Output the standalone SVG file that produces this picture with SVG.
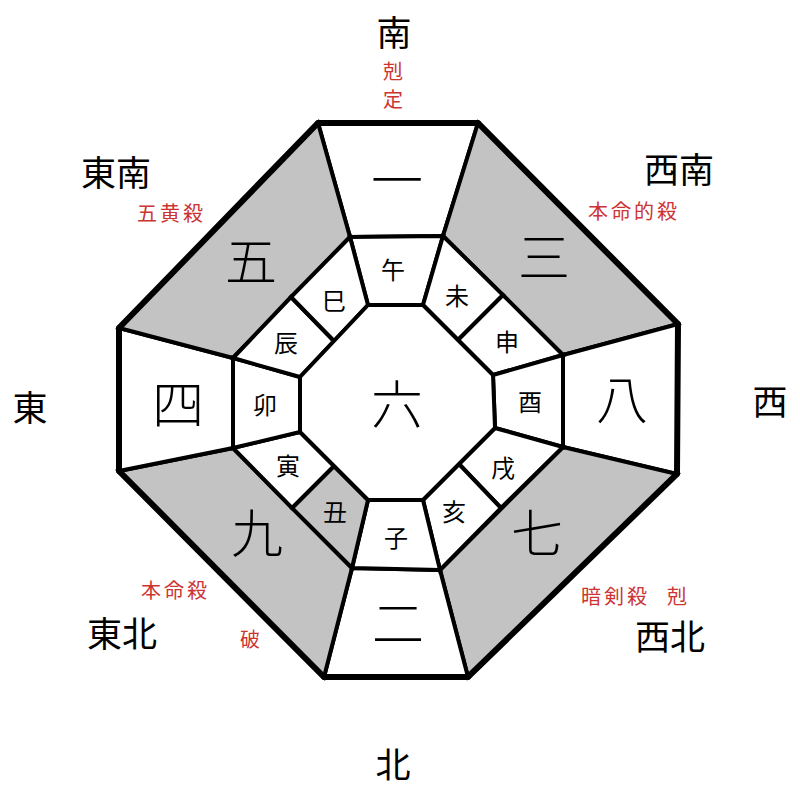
<svg xmlns="http://www.w3.org/2000/svg" width="800" height="800" viewBox="0 0 800 800">
<style>
text{font-family:"Noto Sans CJK JP","Noto Sans CJK SC",sans-serif;text-anchor:middle}
.cell{stroke:#000;stroke-width:4;stroke-linejoin:miter}
.w{fill:#fff}
.g{fill:#c3c3c3}
.num{font-size:52px;font-weight:300}
.br{font-size:24px}
.dir{font-size:35px}
.red{font-size:20px;fill:#cc3333;text-anchor:start;letter-spacing:3px}
.redc{font-size:20px;fill:#cc3333}
</style>
<rect width="800" height="800" fill="#fff"/>
<g id="outer-ring">
<g id="n1"><polygon class="cell w" points="318,123 478,123 443,236 350,237"/><text class="num" x="397" y="200">一</text></g>
<g id="n3"><polygon class="cell g" points="478,123 678,324 563,355 443,236"/><text class="num" x="544" y="277">三</text></g>
<g id="n8"><polygon class="cell w" points="678,324 677,474 563,447 563,355"/><text class="num" x="622" y="419">八</text></g>
<g id="n7"><polygon class="cell g" points="677,474 468,677 440,570 563,447"/><text class="num" x="537" y="553">七</text></g>
<g id="n2"><polygon class="cell w" points="468,677 324,677 352,568 440,570"/><text class="num" x="398" y="643">二</text></g>
<g id="n9"><polygon class="cell g" points="324,677 119,471 233,448 352,568"/><text class="num" x="257" y="553">九</text></g>
<g id="n4"><polygon class="cell w" points="119,471 119,328 233,358 233,448"/><text class="num" x="178" y="424">四</text></g>
<g id="n5"><polygon class="cell g" points="119,328 318,123 350,237 233,358"/><text class="num" x="251" y="281">五</text></g>
</g>
<g id="branch-ring">
<g id="b-uma"><polygon class="cell w" points="350,237 443,236 423,305 368,305"/><text class="br" x="393" y="279">午</text></g>
<g id="b-hitsuji"><polygon class="cell w" points="443,236 503,295 458,340 423,305"/><text class="br" x="457" y="305">未</text></g>
<g id="b-saru"><polygon class="cell w" points="503,295 563,355 493,375 458,340"/><text class="br" x="507" y="351">申</text></g>
<g id="b-tori"><polygon class="cell w" points="563,355 563,447 495,428 493,375"/><text class="br" x="530" y="411">酉</text></g>
<g id="b-inu"><polygon class="cell w" points="563,447 501,508 459,464 495,428"/><text class="br" x="503" y="477">戌</text></g>
<g id="b-i"><polygon class="cell w" points="501,508 440,570 423,500 459,464"/><text class="br" x="454" y="521">亥</text></g>
<g id="b-ne"><polygon class="cell w" points="440,570 352,568 368,500 423,500"/><text class="br" x="396" y="547">子</text></g>
<g id="b-ushi"><polygon class="cell g" points="352,568 292,508 334,466 368,500"/><text class="br" x="335" y="521">丑</text></g>
<g id="b-tora"><polygon class="cell w" points="292,508 233,448 300,432 334,466"/><text class="br" x="288" y="475">寅</text></g>
<g id="b-u"><polygon class="cell w" points="233,448 233,358 300,377 300,432"/><text class="br" x="265" y="414">卯</text></g>
<g id="b-tatsu"><polygon class="cell w" points="233,358 291,297 334,341 300,377"/><text class="br" x="286" y="352">辰</text></g>
<g id="b-mi"><polygon class="cell w" points="291,297 350,237 368,305 334,341"/><text class="br" x="334" y="310">巳</text></g>
</g>
<g id="center"><polygon class="cell w" points="368,305 423,305 493,375 495,428 423,500 368,500 300,432 300,377"/><text class="num" x="397" y="424">六</text></g>
<g id="outline"><polygon points="318,123 478,123 678,324 677,474 468,677 324,677 119,471 119,328" fill="none" stroke="#000" stroke-width="6" stroke-linejoin="miter"/></g>
<g id="labels">
<text class="dir" x="394" y="46">南</text>
<text class="redc" x="393" y="79">剋</text>
<text class="redc" x="393" y="107">定</text>
<text class="dir" x="116" y="186">東南</text>
<text class="red" x="137" y="221">五黄殺</text>
<text class="dir" x="679" y="183">西南</text>
<text class="red" x="588" y="219">本命的殺</text>
<text class="dir" x="30" y="421">東</text>
<text class="dir" x="770" y="415">西</text>
<text class="red" x="141" y="598">本命殺</text>
<text class="redc" x="250" y="647">破</text>
<text class="dir" x="122" y="647">東北</text>
<text class="red" x="581" y="604">暗剣殺</text>
<text class="red" x="667" y="604">剋</text>
<text class="dir" x="670" y="650">西北</text>
<text class="dir" x="393" y="778">北</text>
</g>
</svg>
